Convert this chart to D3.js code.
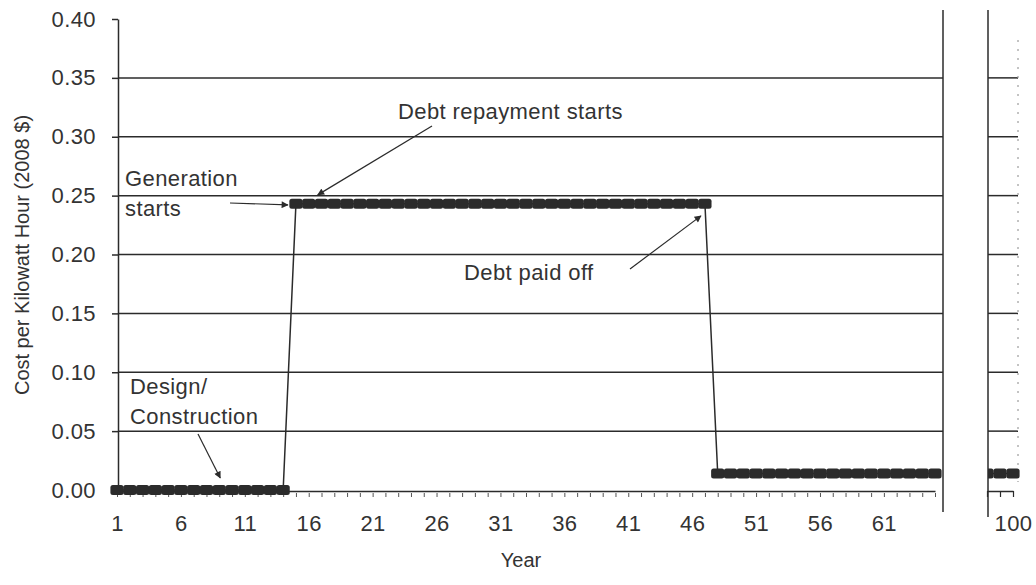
<!DOCTYPE html>
<html>
<head>
<meta charset="utf-8">
<script src="https://cdn.jsdelivr.net/npm/d3@7"></script>
<style>
  body { margin: 0; background: #fff; }
  text { font-family: "Liberation Sans", Arial, sans-serif; fill: #333; font-size: 22px; letter-spacing: 0.4px; }
  .title { font-size: 20px; letter-spacing: 0; }
</style>
</head>
<body>
<svg id="chart" width="1036" height="585"></svg>
<script>
// years on the main panel and the cost
const years = [1, 2, 3, 4, 5, 6, 7, 8, 9, 10, 11, 12, 13, 14, 15, 16, 17, 18, 19, 20,
    21, 22, 23, 24, 25, 26, 27, 28, 29, 30, 31, 32, 33, 34, 35, 36, 37, 38, 39, 40,
    41, 42, 43, 44, 45, 46, 47, 48, 49, 50, 51, 52, 53, 54, 55, 56, 57, 58, 59, 60,
    61, 62, 63, 64, 65];
const cost = [0, 0, 0, 0, 0, 0, 0, 0, 0, 0, 0, 0, 0, 0,
    0.243, 0.243, 0.243, 0.243, 0.243, 0.243, 0.243, 0.243, 0.243, 0.243, 0.243,
    0.243, 0.243, 0.243, 0.243, 0.243, 0.243, 0.243, 0.243, 0.243, 0.243, 0.243,
    0.243, 0.243, 0.243, 0.243, 0.243, 0.243, 0.243, 0.243, 0.243, 0.243, 0.243,
    0.014, 0.014, 0.014, 0.014, 0.014, 0.014, 0.014, 0.014, 0.014, 0.014, 0.014,
    0.014, 0.014, 0.014, 0.014, 0.014, 0.014, 0.014];
// the cut-off panel at year 100
const farYears = [98, 99, 100];
const farCost = [0.014, 0.014, 0.014];

const yTicks = [0, 0.05, 0.10, 0.15, 0.20, 0.25, 0.30, 0.35, 0.40];
const xTickLabels = [1, 6, 11, 16, 21, 26, 31, 36, 41, 46, 51, 56, 61];
const farTickLabels = [100];

const yTitle = 'Cost per Kilowatt Hour (2008 $)';
const xTitle = 'Year';
const noteRepay = ['Debt repayment starts'];
const noteGen = ['Generation', 'starts'];
const notePaid = ['Debt paid off'];
const noteDesign = ['Design/', 'Construction'];

const ink = '#2b2b2b';

const svg = d3.select('#chart');

const x = d3.scaleLinear().domain([1, 65]).range([117, 935]);
const xFar = d3.scaleLinear().domain([98, 100]).range([987, 1013]);
const y = d3.scaleLinear().domain([0, 0.40]).range([490, 19]);

svg.append('defs').append('marker')
    .attr('id', 'head')
    .attr('viewBox', '0 0 10 10')
    .attr('refX', 9).attr('refY', 5)
    .attr('markerWidth', 8).attr('markerHeight', 7)
    .attr('markerUnits', 'userSpaceOnUse')
    .attr('orient', 'auto')
    .append('path').attr('d', 'M0,0L10,5L0,10z').attr('fill', ink);

svg.append('defs').append('clipPath').attr('id', 'farclip')
    .append('rect').attr('x', 988).attr('y', 0).attr('width', 40).attr('height', 585);

// gridlines, both panels
const grid = yTicks.filter(d => d > 0 && d < 0.40);
svg.append('g').selectAll('line').data(grid).enter().append('line')
    .attr('x1', 118).attr('x2', 943)
    .attr('y1', d => y(d)).attr('y2', d => y(d))
    .attr('stroke', ink).attr('stroke-width', 1.5);
svg.append('g').selectAll('line').data(grid).enter().append('line')
    .attr('x1', 988).attr('x2', 1018)
    .attr('y1', d => y(d)).attr('y2', d => y(d))
    .attr('stroke', ink).attr('stroke-width', 1.5);

// panel borders
svg.append('line').attr('x1', 943).attr('x2', 943).attr('y1', 10).attr('y2', 512)
    .attr('stroke', ink).attr('stroke-width', 1.5);
svg.append('line').attr('x1', 988).attr('x2', 988).attr('y1', 10).attr('y2', 517)
    .attr('stroke', ink).attr('stroke-width', 1.5);
svg.append('line').attr('x1', 1018).attr('x2', 1018).attr('y1', 40).attr('y2', 482)
    .attr('stroke', '#888').attr('stroke-width', 1).attr('stroke-dasharray', '2,7');

// y axis
const yAxis = svg.append('g')
    .attr('transform', 'translate(118,0)')
    .call(d3.axisLeft(y).tickValues(yTicks).tickSize(6).tickSizeOuter(0)
        .tickPadding(16).tickFormat(d3.format('.2f')));
yAxis.select('.domain').attr('stroke', ink).attr('stroke-width', 1.5);
yAxis.selectAll('.tick line').attr('stroke', ink).attr('stroke-width', 1.5);
yAxis.selectAll('text').attr('font-size', null).attr('font-family', null).attr('fill', null);

// x axis, main panel
const xAxis = svg.append('g')
    .attr('transform', 'translate(0,491)')
    .call(d3.axisBottom(x).tickValues(years).tickSize(6).tickSizeOuter(0)
        .tickPadding(18).tickFormat(d => xTickLabels.includes(d) ? d : ''));
xAxis.select('.domain').attr('stroke', ink).attr('stroke-width', 1.5);
xAxis.selectAll('.tick line').attr('stroke', '#555').attr('stroke-width', 1)
    .attr('y1', 2);
xAxis.selectAll('text').attr('font-size', null).attr('font-family', null).attr('fill', null);

// x axis, far panel
const xAxisFar = svg.append('g')
    .attr('transform', 'translate(0,491)')
    .call(d3.axisBottom(xFar).tickValues(farYears).tickSize(6).tickSizeOuter(0)
        .tickPadding(18).tickFormat(d => farTickLabels.includes(d) ? d : ''));
xAxisFar.select('.domain').attr('stroke', ink).attr('stroke-width', 1.5);
xAxisFar.selectAll('.tick line').attr('stroke', ink).attr('stroke-width', 1.2);
xAxisFar.selectAll('text').attr('font-size', null).attr('font-family', null).attr('fill', null);

// cost line with block markers
const line = d3.line().x(d => x(d[0])).y(d => y(d[1]));
const pts = years.map((d, i) => [d, cost[i]]);
svg.append('path').datum(pts).attr('d', line)
    .attr('fill', 'none').attr('stroke', ink).attr('stroke-width', 1.5);
svg.append('g').selectAll('rect').data(pts).enter().append('rect')
    .attr('x', d => x(d[0]) - 6.6).attr('y', d => y(d[1]) - 5)
    .attr('width', 13.2).attr('height', 10).attr('rx', 2.5)
    .attr('fill', ink);

const farPts = farYears.map((d, i) => [d, farCost[i]]);
const far = svg.append('g').attr('clip-path', 'url(#farclip)');
far.append('path').datum(farPts)
    .attr('d', d3.line().x(d => xFar(d[0])).y(d => y(d[1])))
    .attr('fill', 'none').attr('stroke', ink).attr('stroke-width', 1.5);
far.selectAll('rect').data(farPts).enter().append('rect')
    .attr('x', d => xFar(d[0]) - 6.6).attr('y', d => y(d[1]) - 5)
    .attr('width', 13.2).attr('height', 10).attr('rx', 2.5)
    .attr('fill', ink);

// axis titles
svg.append('text').attr('class', 'title')
    .attr('transform', 'translate(29,255) rotate(-90)')
    .attr('text-anchor', 'middle')
    .text(yTitle);
svg.append('text').attr('class', 'title')
    .attr('x', 521).attr('y', 567)
    .attr('text-anchor', 'middle')
    .text(xTitle);

// annotations
function note(lines, tx, ty) {
    const t = svg.append('text').attr('x', tx).attr('y', ty);
    t.selectAll('tspan').data(lines).enter().append('tspan')
        .attr('x', tx).attr('dy', (d, i) => i ? 30 : 0).text(d => d);
}
function arrow(x1, y1, x2, y2) {
    svg.append('line').attr('x1', x1).attr('y1', y1).attr('x2', x2).attr('y2', y2)
        .attr('stroke', ink).attr('stroke-width', 1.2)
        .attr('marker-end', 'url(#head)');
}

note(noteRepay, 398, 119);
arrow(432, 126, x(16) + 9, y(cost[15]) - 9);

note(noteGen, 125, 186);
arrow(230, 203, x(15) - 8, y(cost[14]) + 1);

note(notePaid, 464, 280);
arrow(630, 269, x(47) - 4, y(cost[46]) + 12);

note(noteDesign, 130, 394);
arrow(198, 434, x(9) + 1, y(0) - 12);
</script>
</body>
</html>
